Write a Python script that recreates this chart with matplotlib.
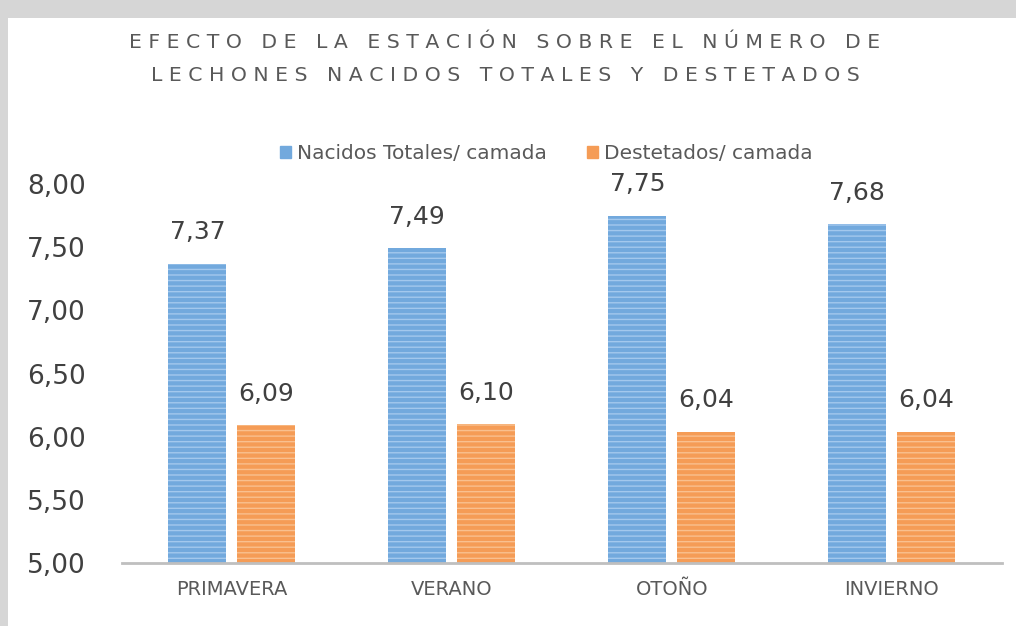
import matplotlib.pyplot as plt
import matplotlib.patches as mpatches
import numpy as np

estaciones = ['PRIMAVERA', 'VERANO', 'OTOÑO', 'INVIERNO']
nacidos = [7.37, 7.49, 7.75, 7.68]
destetados = [6.09, 6.10, 6.04, 6.04]
series = ['Nacidos Totales/ camada', 'Destetados/ camada']
yticks = [5.0, 5.5, 6.0, 6.5, 7.0, 7.5, 8.0]

titulo = ['EFECTO DE LA ESTACIÓN SOBRE EL NÚMERO DE',
          'LECHONES NACIDOS TOTALES Y DESTETADOS']


def espaciar(s):
    # letter spacing like the original title
    return '   '.join(' '.join(w) for w in s.split(' '))


def coma(v):
    return f'{v:.2f}'.replace('.', ',')


fig = plt.figure(figsize=(10.16, 6.26), dpi=100, facecolor='#d6d6d6')
fig.patches.append(mpatches.Rectangle((8 / 1016, 0), 1, 608 / 626, transform=fig.transFigure,
                                      facecolor='white', edgecolor='none', zorder=-10))

ax = fig.add_axes([0.120, 0.1006, 0.866, 0.6055])
ax.set_facecolor('none')

x = np.arange(len(estaciones))
w = 0.264
gap = 0.05
b1 = ax.bar(x - (w + gap) / 2, nacidos, w, color='#72a9dd', edgecolor='#a3c8ed',
            hatch='---', linewidth=0, label=series[0])
b2 = ax.bar(x + (w + gap) / 2, destetados, w, color='#f59c56', edgecolor='#f9c08f',
            hatch='---', linewidth=0, label=series[1])

for bars, vals in ((b1, nacidos), (b2, destetados)):
    for r, v in zip(bars, vals):
        ax.annotate(coma(v), (r.get_x() + r.get_width() / 2, v), xytext=(0, 14),
                    textcoords='offset points', ha='center', va='bottom',
                    fontsize=18, color='#404040', annotation_clip=False)

ax.set_ylim(5, 8)
ax.set_xlim(-0.5, 3.5)
ax.set_yticks(yticks)
ax.set_yticklabels([coma(v) for v in yticks], fontsize=19, color='#404040')
ax.set_xticks(x)
ax.set_xticklabels(estaciones, fontsize=14, color='#595959')
ax.tick_params(length=0)
ax.tick_params(axis='y', pad=26)
ax.tick_params(axis='x', pad=12)
for s in ['top', 'right', 'left']:
    ax.spines[s].set_visible(False)
ax.spines['bottom'].set_color('#bfbfbf')
ax.spines['bottom'].set_linewidth(2)

handles = [mpatches.Patch(color='#72a9dd'), mpatches.Patch(color='#f59c56')]
fig.legend(handles, series, loc='center', bbox_to_anchor=(0.538, 0.755), ncol=2, frameon=False,
           fontsize=14.5, labelcolor='#595959', handlelength=0.55, handleheight=0.55,
           handletextpad=0.3, columnspacing=2.0)

fig.text(0.497, 0.932, espaciar(titulo[0]), ha='center', va='center', fontsize=14.7, color='#595959')
fig.text(0.497, 0.880, espaciar(titulo[1]), ha='center', va='center', fontsize=14.7, color='#595959')

fig.savefig('out.png', dpi=100, facecolor=fig.get_facecolor())
